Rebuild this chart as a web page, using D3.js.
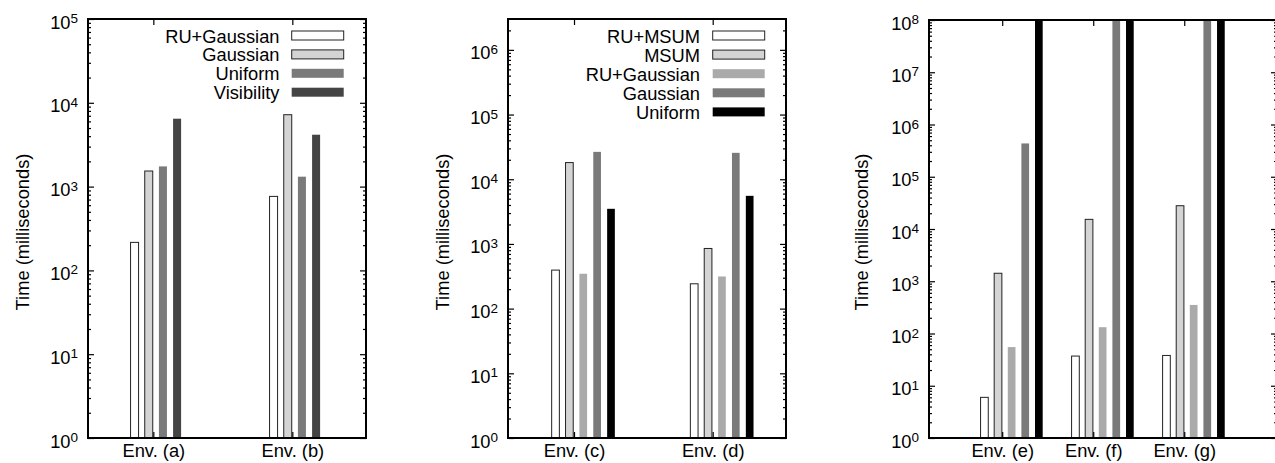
<!DOCTYPE html>
<html>
<head>
<meta charset="utf-8">
<script src="https://cdn.jsdelivr.net/npm/d3@7"></script>
<style>
  body { margin: 0; background: #fff; }
  svg text { font-family: "Liberation Sans", Arial, Helvetica, sans-serif; fill: #000; }
  .tick text, .legend text, .ytitle { font-size: 18.3px; }
</style>
</head>
<body>
<svg id="chart" width="1275" height="463"></svg>
<script>
// left chart: Env. (a), (b)
const groupsAB = ['Env. (a)', 'Env. (b)'];
const seriesAB = ['RU+Gaussian', 'Gaussian', 'Uniform', 'Visibility'];
const valuesAB = [
  [216, 764],
  [1535, 7210],
  [1742, 1313],
  [6460, 4160]
];

// middle chart: Env. (c), (d)
const groupsCD = ['Env. (c)', 'Env. (d)'];
const seriesCD = ['RU+MSUM', 'MSUM', 'RU+Gaussian', 'Gaussian', 'Uniform'];
const valuesCD = [
  [394, 242],
  [18100, 851],
  [346, 314],
  [26500, 25600],
  [3490, 5540]
];

// right chart: Env. (e), (f), (g)  (1e9 = off the top of the axis)
const groupsEFG = ['Env. (e)', 'Env. (f)', 'Env. (g)'];
const seriesEFG = ['RU+MSUM', 'MSUM', 'RU+Gaussian', 'Gaussian', 'Uniform'];
const valuesEFG = [
  [6, 37, 38],
  [1422, 15300, 27900],
  [55, 132, 352],
  [434000, 1e9, 1e9],
  [1e9, 1e9, 1e9]
];

const svg = d3.select('#chart');

function drawPanel(cfg) {
  const g = svg.append('g');
  const x = d3.scaleLinear().domain(cfg.xDomain).range([cfg.left, cfg.right]);
  const y = d3.scaleLog().domain(cfg.yDomain).range([cfg.bottom, cfg.top]);
  const n = cfg.series.length;

  const inner = d3.scaleBand()
    .domain(cfg.series)
    .range([cfg.barStart, cfg.barStart + n * cfg.barStep])
    .paddingInner(cfg.pad)
    .paddingOuter(cfg.pad / 2);

  const clipId = 'clip' + cfg.id;
  g.append('clipPath').attr('id', clipId)
    .append('rect')
    .attr('x', cfg.left).attr('y', cfg.top)
    .attr('width', cfg.right - cfg.left).attr('height', cfg.bottom - cfg.top);

  const bars = [];
  cfg.values.forEach((row, si) => {
    row.forEach((v, gi) => bars.push({ s: cfg.series[si], si: si, gi: gi, v: v }));
  });

  g.append('g').attr('clip-path', 'url(#' + clipId + ')')
    .selectAll('rect')
    .data(bars)
    .enter().append('rect')
    .attr('x', d => x(d.gi + inner(d.s)))
    .attr('width', d => x(d.gi + inner(d.s) + inner.bandwidth()) - x(d.gi + inner(d.s)))
    .attr('y', d => y(Math.min(d.v, cfg.yDomain[1] * 10)))
    .attr('height', d => cfg.bottom - y(Math.min(d.v, cfg.yDomain[1] * 10)))
    .attr('fill', d => cfg.colors[d.si])
    .attr('stroke', d => cfg.outlined[d.si] ? '#222' : 'none')
    .attr('stroke-width', 1);

  // y axis (log) with minor ticks
  const lo = 0, hi = Math.floor(Math.log10(cfg.yDomain[1]));
  const majors = d3.range(lo, hi + 1).map(e => Math.pow(10, e));
  const minors = [];
  d3.range(lo, hi + 1).forEach(e => {
    for (let k = 2; k <= 9; k++) {
      const v = k * Math.pow(10, e);
      if (v < cfg.yDomain[1]) minors.push(v);
    }
  });

  const yAxis = g.append('g')
    .attr('transform', `translate(${cfg.left},0)`)
    .call(d3.axisLeft(y).tickValues(majors).tickSize(-6).tickPadding(10).tickFormat(''));
  yAxis.selectAll('.tick text').each(function (d) {
    const t = d3.select(this).attr('dy', 9).text('10');
    t.append('tspan').attr('dy', -5.5).style('font-size', '13.5px').text(Math.round(Math.log10(d)));
  });
  g.append('g')
    .attr('transform', `translate(${cfg.left},0)`)
    .call(d3.axisLeft(y).tickValues(minors).tickSize(-3).tickFormat(''));
  g.append('g')
    .attr('transform', `translate(${cfg.right},0)`)
    .call(d3.axisRight(y).tickValues(majors).tickSize(-6).tickFormat(''));
  g.append('g')
    .attr('transform', `translate(${cfg.right},0)`)
    .call(d3.axisRight(y).tickValues(minors).tickSize(-3).tickFormat(''));

  // x axis
  g.append('g')
    .attr('transform', `translate(0,${cfg.bottom})`)
    .call(d3.axisBottom(x).tickValues(d3.range(cfg.groups.length)).tickSize(-6).tickPadding(6)
      .tickFormat(i => cfg.groups[i]));
  g.append('g')
    .attr('transform', `translate(0,${cfg.top})`)
    .call(d3.axisTop(x).tickValues(d3.range(cfg.groups.length)).tickSize(-6).tickFormat(''));

  g.selectAll('.domain').remove();
  g.selectAll('.tick line').attr('stroke', '#000').attr('stroke-width', 1.2);

  // frame
  g.append('rect')
    .attr('x', cfg.left).attr('y', cfg.top)
    .attr('width', cfg.right - cfg.left).attr('height', cfg.bottom - cfg.top)
    .attr('fill', 'none').attr('stroke', '#000').attr('stroke-width', 2);

  // y title
  g.append('text')
    .attr('class', 'ytitle')
    .attr('transform', `translate(${cfg.titleX},232) rotate(-90)`)
    .attr('text-anchor', 'middle')
    .text('Time (milliseconds)');

  // legend
  if (cfg.legend) {
    const lg = g.append('g').attr('class', 'legend');
    const rows = lg.selectAll('g').data(cfg.series).enter().append('g')
      .attr('transform', (d, i) => `translate(0,${cfg.legend.y0 + i * cfg.legend.step})`);
    rows.append('text')
      .attr('x', cfg.legend.textRight).attr('y', 7)
      .attr('text-anchor', 'end')
      .text(d => d);
    rows.append('rect')
      .attr('x', cfg.legend.sampleX).attr('y', -4.5)
      .attr('width', 52).attr('height', 9)
      .attr('fill', (d, i) => cfg.colors[i])
      .attr('stroke', (d, i) => cfg.outlined[i] ? '#222' : 'none');
  }
}

drawPanel({
  id: 1, groups: groupsAB, series: seriesAB, values: valuesAB,
  left: 88, right: 366, top: 19, bottom: 438,
  xDomain: [-0.47, 1.53], yDomain: [1, 1e5],
  barStart: -0.186, barStep: 0.102, pad: 0.435,
  colors: ['#ffffff', '#d4d4d4', '#7a7a7a', '#444444'],
  outlined: [true, true, false, false],
  titleX: 29,
  legend: { textRight: 279.5, sampleX: 291.7, y0: 35.5, step: 18.9 }
});

drawPanel({
  id: 2, groups: groupsCD, series: seriesCD, values: valuesCD,
  left: 508, right: 786, top: 19, bottom: 438,
  xDomain: [-0.476, 1.5285], yDomain: [1, 3e6],
  barStart: -0.1834, barStep: 0.1, pad: 0.445,
  colors: ['#ffffff', '#d4d4d4', '#aaaaaa', '#7a7a7a', '#000000'],
  outlined: [true, true, false, false, false],
  titleX: 449,
  legend: { textRight: 700, sampleX: 712.7, y0: 35.5, step: 19.1 }
});

drawPanel({
  id: 3, groups: groupsEFG, series: seriesEFG, values: valuesEFG,
  left: 929, right: 1277, top: 20, bottom: 438,
  xDomain: [-0.8044, 3.019], yDomain: [1, 1e8],
  barStart: -0.2703, barStep: 0.1495, pad: 0.434,
  colors: ['#ffffff', '#d4d4d4', '#aaaaaa', '#7a7a7a', '#000000'],
  outlined: [true, true, false, false, false],
  titleX: 868,
  legend: null
});
</script>
</body>
</html>
